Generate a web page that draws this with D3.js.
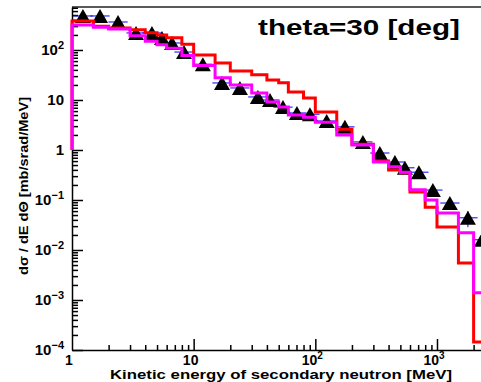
<!DOCTYPE html>
<html>
<head>
<meta charset="utf-8">
<script src="https://cdn.jsdelivr.net/npm/d3@7"></script>
<style>
  html, body { margin: 0; padding: 0; background: #fff; overflow: hidden; }
  text { font-family: "Liberation Sans", Arial, Helvetica, sans-serif; font-weight: bold; fill: #000; }
</style>
</head>
<body>
<svg id="chart" width="481" height="382"></svg>
<script>
// Histogram bin edges [MeV]
const binEdges = [1, 1.5, 2, 3, 4, 5, 6, 8, 10, 15, 20, 30, 40, 50, 60, 80, 100,
                  150, 200, 300, 400, 500, 600, 800, 1000, 1500, 2000, 3000];

// Calculation A (red) per bin [mb/srad/MeV]
const calcRed = [380, 300, 275, 255, 220, 200, 175, 130, 79, 55, 38, 32, 25, 22, 14.5, 11,
                 5.75, 2.6, 1.3, 0.6, 0.4, 0.35, 0.145, 0.072, 0.029, 0.0055, 0.000145];

// Calculation B (magenta) per bin [mb/srad/MeV]
const calcMagenta = [316, 284, 263, 193, 150, 128, 108, 78, 49, 28, 20, 13.8, 9.1, 7.2, 5.0, 4.5,
                     3.6, 2.0, 1.26, 0.575, 0.46, 0.36, 0.16, 0.10, 0.055, 0.022, 0.0014];

// Measured points
const expEnergy = [1.23, 1.70, 2.39, 3.36, 4.54, 5.49, 6.64, 8.33, 11.9, 17.1, 24.0, 33.7, 42.4,
                   54.2, 70.6, 90.3, 124, 175, 246, 339, 451, 545, 710, 925, 1276, 1795, 2339];
const expValue  = [479, 479, 363, 219, 219, 174, 138, 91, 52, 21.9, 17.4, 11.5, 10.0,
                   7.2, 5.5, 5.2, 3.8, 2.9, 1.45, 0.87, 0.575, 0.44, 0.36, 0.158, 0.087, 0.044, 0.016];
const expRelErr = [0.1, 0.1, 0.1, 0.1, 0.1, 0.1, 0.1, 0.1, 0.1, 0.1, 0.1, 0.1, 0.1,
                   0.1, 0.1, 0.1, 0.1, 0.1, 0.12, 0.12, 0.15, 0.15, 0.15, 0.2, 0.25, 0.35, 0.4];

// Axis ticks and labels
const xTickValues = [1, 10, 100, 1000];
const xTickLabels = ["1", "10", "10^2", "10^3"];
const yTickValues = [1e-4, 1e-3, 1e-2, 1e-1, 1, 10, 100];
const yTickLabels = ["10^\u22124", "10^\u22123", "10^\u22122", "10^\u22121", "1", "10", "10^2"];

const titleText = "theta=30 [deg]";
const xTitle = "Kinetic energy of secondary neutron [MeV]";
const yTitle = "d\u03c3 / dE d\u0398 [mb/srad/MeV]";

const svg = d3.select("#chart");
const frameLeft = 72, frameRight = 481, frameTop = 7, frameBottom = 350;

const x = d3.scaleLog().domain([1, 2300]).range([frameLeft, frameRight]);
const y = d3.scaleLog().domain([1e-4, 724]).range([frameBottom, frameTop]);

// minor tick values within the axis ranges
const xMinor = [];
for (let d = 1; d <= 1000; d *= 10)
  for (let m = 2; m <= 9; m++) if (d * m <= 2300) xMinor.push(d * m);
const yMinor = [];
for (let d = 1e-4; d <= 100; d *= 10)
  for (let m = 2; m <= 9; m++) if (d * m <= 724) yMinor.push(d * m);

// frame top line
svg.append("line")
  .attr("x1", frameLeft).attr("x2", frameRight).attr("y1", frameTop).attr("y2", frameTop)
  .attr("stroke", "#222").attr("stroke-width", 1.5);

// y axis (ticks pointing inside)
svg.append("g").attr("transform", `translate(${frameLeft},0)`)
  .call(d3.axisLeft(y).tickValues(yTickValues).tickSize(-11).tickSizeOuter(0).tickFormat(""));
svg.append("g").attr("transform", `translate(${frameLeft},0)`)
  .call(d3.axisLeft(y).tickValues(yMinor).tickSize(-6).tickSizeOuter(0).tickFormat(""))
  .select(".domain").remove();

// x axis (ticks pointing inside)
svg.append("g").attr("transform", `translate(0,${frameBottom})`)
  .call(d3.axisBottom(x).tickValues(xTickValues.filter(v => v > 1)).tickSize(-11).tickSizeOuter(0).tickFormat(""));
svg.append("g").attr("transform", `translate(0,${frameBottom})`)
  .call(d3.axisBottom(x).tickValues(xMinor).tickSize(-5).tickSizeOuter(0).tickFormat(""))
  .select(".domain").remove();

svg.selectAll(".domain, .tick line").attr("stroke", "#000").attr("stroke-width", 1.5);

// tick label with optional superscript written as base^exp
function powerLabel(sel, label, supSize) {
  const parts = label.split("^");
  sel.text(parts[0]);
  if (parts[1]) sel.append("tspan").attr("dy", -6).attr("font-size", supSize).text(parts[1]);
}

yTickValues.forEach((v, i) => {
  svg.append("text")
    .attr("x", 64).attr("y", y(v) + 5)
    .attr("text-anchor", "end").attr("font-size", 15)
    .call(powerLabel, yTickLabels[i], 11);
});
xTickValues.forEach((v, i) => {
  svg.append("text")
    .attr("x", x(v) - 3).attr("y", 365)
    .attr("text-anchor", "middle").attr("font-size", 14)
    .call(powerLabel, xTickLabels[i], 10);
});

// measured points: blue error bars under black triangles
const pts = svg.append("g");
expEnergy.forEach((e, i) => {
  const v = expValue[i], r = expRelErr[i];
  pts.append("line")
    .attr("x1", x(e / 1.2)).attr("x2", x(e * 1.2)).attr("y1", y(v)).attr("y2", y(v))
    .attr("stroke", "#0000ff").attr("stroke-width", 1);
  pts.append("line")
    .attr("x1", x(e)).attr("x2", x(e)).attr("y1", y(v * (1 - r))).attr("y2", y(v * (1 + r)))
    .attr("stroke", "#0000ff").attr("stroke-width", 1);
});
pts.selectAll("path.tri")
  .data(expEnergy.map((e, i) => [e, expValue[i]]))
  .join("path")
  .attr("class", "tri")
  .attr("transform", d => `translate(${x(d[0])},${y(d[1])})`)
  .attr("d", "M0,-7L8,7L-8,7Z")
  .attr("fill", "#000");

// step histograms starting from a baseline of 1
function stepPoints(vals) {
  const p = [[binEdges[0], 1]];
  vals.forEach((v, i) => { p.push([binEdges[i], v]); p.push([binEdges[i + 1], v]); });
  return p;
}
const line = d3.line().x(d => x(d[0])).y(d => y(d[1]));

svg.append("path").datum(stepPoints(calcRed))
  .attr("d", line).attr("fill", "none")
  .attr("stroke", "#ff0000").attr("stroke-width", 3).attr("stroke-linejoin", "miter");
svg.append("path").datum(stepPoints(calcMagenta))
  .attr("d", line).attr("fill", "none")
  .attr("stroke", "#ff00ff").attr("stroke-width", 3).attr("stroke-linejoin", "miter");

// titles
svg.append("text")
  .attr("x", 258).attr("y", 35).attr("font-size", 22)
  .attr("textLength", 202).attr("lengthAdjust", "spacingAndGlyphs")
  .text(titleText);

svg.append("text")
  .attr("x", 110).attr("y", 379).attr("font-size", 13)
  .attr("textLength", 342).attr("lengthAdjust", "spacingAndGlyphs")
  .text(xTitle);

svg.append("text")
  .attr("transform", "translate(28,186) rotate(-90)")
  .attr("text-anchor", "middle").attr("font-size", 12)
  .attr("textLength", 178).attr("lengthAdjust", "spacingAndGlyphs")
  .text(yTitle);
</script>
</body>
</html>
